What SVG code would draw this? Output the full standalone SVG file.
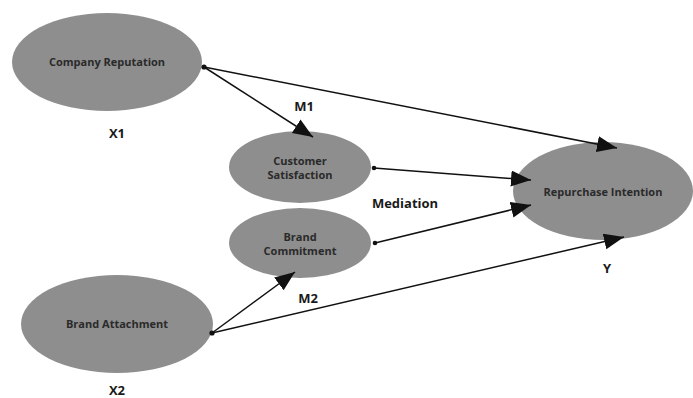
<svg xmlns="http://www.w3.org/2000/svg" width="693" height="398" viewBox="0 0 693 398">
<defs>
<marker id="arr" markerUnits="userSpaceOnUse" markerWidth="21" markerHeight="17" refX="20" refY="8" orient="auto">
<path d="M0,0 L20,8 L0,16 z" fill="#111"/>
</marker>
<style>
.node{fill:#8e8e8e;}
.nt{font-family:"Open Sans","Liberation Sans",Arial,sans-serif;font-weight:bold;font-size:11px;fill:#2a2a2a;text-anchor:middle;}
.lbl{font-family:"Open Sans","Liberation Sans",Arial,sans-serif;font-weight:bold;font-size:13px;fill:#1a1a1a;text-anchor:middle;}
.edge{stroke:#111;stroke-width:1.5;fill:none;marker-end:url(#arr);}
.dot{fill:#111;}
</style>
</defs>
<rect width="693" height="398" fill="#fff"/>
<g id="company-reputation">
<ellipse class="node" cx="107" cy="62" rx="95" ry="49"/>
<text class="nt" x="107" y="66">Company Reputation</text>
</g>
<g id="customer-satisfaction">
<ellipse class="node" cx="300" cy="167" rx="71" ry="36"/>
<text class="nt" x="300" y="165">Customer</text>
<text class="nt" x="300" y="179">Satisfaction</text>
</g>
<g id="brand-commitment">
<ellipse class="node" cx="300" cy="243" rx="71" ry="35"/>
<text class="nt" x="300" y="241">Brand</text>
<text class="nt" x="300" y="255">Commitment</text>
</g>
<g id="repurchase-intention">
<ellipse class="node" cx="603" cy="191" rx="90" ry="49"/>
<text class="nt" x="603" y="196">Repurchase Intention</text>
</g>
<g id="brand-attachment">
<ellipse class="node" cx="117" cy="324" rx="96" ry="49"/>
<text class="nt" x="117" y="328">Brand Attachment</text>
</g>
<g id="connectors">
<line class="edge" x1="204" y1="67" x2="617" y2="148"/>
<line class="edge" x1="204" y1="67" x2="313" y2="137"/>
<line class="edge" x1="374" y1="168" x2="531" y2="180"/>
<line class="edge" x1="375" y1="243" x2="531" y2="205"/>
<line class="edge" x1="212" y1="333" x2="295" y2="272"/>
<line class="edge" x1="212" y1="333" x2="624" y2="237"/>
<circle class="dot" cx="204" cy="67" r="2.6"/>
<circle class="dot" cx="374" cy="168" r="2.3"/>
<circle class="dot" cx="375" cy="243" r="2.3"/>
<circle class="dot" cx="212" cy="333" r="2.6"/>
</g>
<g id="labels">
<text class="lbl" x="117" y="138">X1</text>
<text class="lbl" x="304" y="111">M1</text>
<text class="lbl" x="405" y="208">Mediation</text>
<text class="lbl" x="607" y="273">Y</text>
<text class="lbl" x="308" y="303">M2</text>
<text class="lbl" x="117" y="395">X2</text>
</g>
</svg>
